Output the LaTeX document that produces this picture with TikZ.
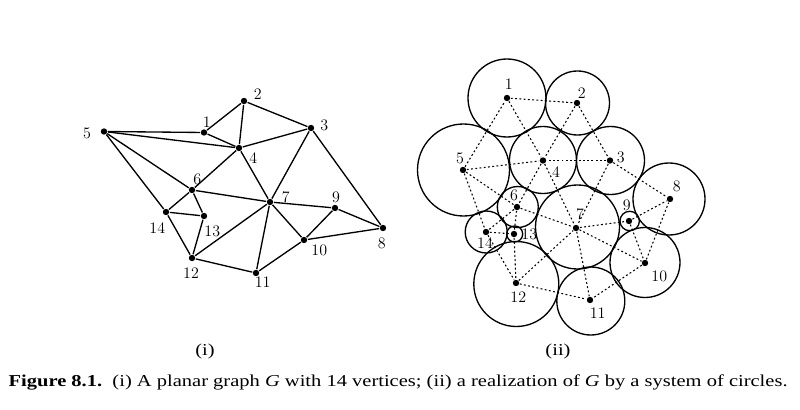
\documentclass[tikz,border=0pt]{standalone}
\usepackage{fontspec}
\newfontfamily\capfont[FakeStretch=1.23]{Liberation Serif}
\tikzset{every picture/.style={line width=1pt}}
\tikzset{
  vtx/.style={circle,fill=black,inner sep=0pt,minimum size=4.8pt},
  num/.style={inner sep=0.75pt,font=\fontsize{12}{13}\selectfont},
  ring/.style={line width=1pt},
  link/.style={line width=0.8pt,dash pattern=on 1.4pt off 1.8pt},
  capt/.style={inner sep=0pt,font=\capfont\fontsize{12.5}{14}\selectfont}
}
\begin{document}
\begin{tikzpicture}[x=0.75pt,y=0.75pt,yscale=-1,xscale=1]
\path[use as bounding box] (0,0) rectangle (800,410);

% Graph (i)
\node[vtx] (a1) at (204,132.5) {};
\node[vtx] (a2) at (244,101) {};
\node[vtx] (a3) at (311,128) {};
\node[vtx] (a4) at (239,148) {};
\node[vtx] (a5) at (104,131.5) {};
\node[vtx] (a6) at (192,190) {};
\node[vtx] (a7) at (270,202) {};
\node[vtx] (a8) at (383,228) {};
\node[vtx] (a9) at (335,208) {};
\node[vtx] (a10) at (304,240) {};
\node[vtx] (a11) at (256,273) {};
\node[vtx] (a12) at (192,258) {};
\node[vtx] (a13) at (204,216) {};
\node[vtx] (a14) at (166,212) {};

\foreach \s/\t in {5/1,1/2,1/4,2/4,2/3,3/4,5/4,5/6,5/14,4/6,4/7,3/7,3/8,6/7,6/14,6/13,14/13,14/12,13/12,12/7,12/11,7/11,7/9,7/10,9/10,9/8,10/8,10/11}
  \draw (a\s) -- (a\t);

% Text Node
\node[num] (la1) at (206.7,121.7) {1};
\node[num] (la2) at (257.7,94) {2};
\node[num] (la3) at (324.3,125) {3};
\node[num] (la4) at (253.3,157.7) {4};
\node[num] (la5) at (87,133) {5};
\node[num] (la6) at (197.3,179) {6};
\node[num] (la7) at (285.7,197.3) {7};
\node[num] (la8) at (381.7,243.3) {8};
\node[num] (la9) at (336,197.3) {9};
\node[num] (la10) at (319.3,250) {10};
\node[num] (la11) at (262.7,282.3) {11};
\node[num] (la12) at (191,273.3) {12};
\node[num] (la13) at (212.3,231.7) {13};
\node[num] (la14) at (157.3,228.3) {14};

% Circles (ii)
\draw[ring] (507,98) circle (39);
\draw[ring] (577.5,103) circle (32);
\draw[ring] (610.5,160.5) circle (34);
\draw[ring] (543,160) circle (33.5);
\draw[ring] (463.5,170) circle (46);
\draw[ring] (517.8,207) circle (20.5);
\draw[ring] (577.5,227) circle (42);
\draw[ring] (669,199) circle (36);
\draw[ring] (629.7,221) circle (9.7);
\draw[ring] (645,262.5) circle (35);
\draw[ring] (590.8,301) circle (34);
\draw[ring] (516.3,284) circle (42.5);
\draw[ring] (514.7,234) circle (8);
\draw[ring] (486.2,232) circle (21);

\node[vtx] (b1) at (507,98) {};
\node[vtx] (b2) at (577,103) {};
\node[vtx] (b3) at (610,160.5) {};
\node[vtx] (b4) at (543,160.5) {};
\node[vtx] (b5) at (463,170) {};
\node[vtx] (b6) at (517,207) {};
\node[vtx] (b7) at (576,228) {};
\node[vtx] (b8) at (670,199) {};
\node[vtx] (b9) at (629,221) {};
\node[vtx] (b10) at (645,263) {};
\node[vtx] (b11) at (590,300) {};
\node[vtx] (b12) at (516,283) {};
\node[vtx] (b13) at (514,234) {};
\node[vtx] (b14) at (486,232) {};

\foreach \s/\t in {5/1,1/2,1/4,2/4,2/3,3/4,5/4,5/6,5/14,4/6,4/7,3/7,3/8,6/7,6/14,6/13,14/13,14/12,13/12,12/7,12/11,7/11,7/9,7/10,9/10,9/8,10/8,10/11}
  \draw[link] (b\s) -- (b\t);

% Text Node
\node[num] (lb1) at (508.7,84.3) {1};
\node[num] (lb2) at (581.7,92.7) {2};
\node[num] (lb3) at (620.7,157.3) {3};
\node[num] (lb4) at (556,171.7) {4};
\node[num] (lb5) at (460,158.3) {5};
\node[num] (lb6) at (514,195.7) {6};
\node[num] (lb7) at (580,214.3) {7};
\node[num] (lb8) at (676.7,186.7) {8};
\node[num] (lb9) at (626.7,205) {9};
\node[num] (lb10) at (659.3,276.7) {10};
\node[num] (lb11) at (597.7,313.3) {11};
\node[num] (lb12) at (518.3,296.7) {12};
\node[num] (lb13) at (529.3,234.3) {13};
\node[num] (lb14) at (485,243.3) {14};

% Captions
\node[capt] (sub1) at (205,351) {(i)};
\node[capt] (sub2) at (558,351) {(ii)};
\node[capt,anchor=base west] (cap) at (8,386)
  {\textbf{Figure 8.1.}\ \ (i) A planar graph \textit{G} with 14 vertices; (ii) a realization of \textit{G} by a system of circles.};
\end{tikzpicture}
\end{document}
